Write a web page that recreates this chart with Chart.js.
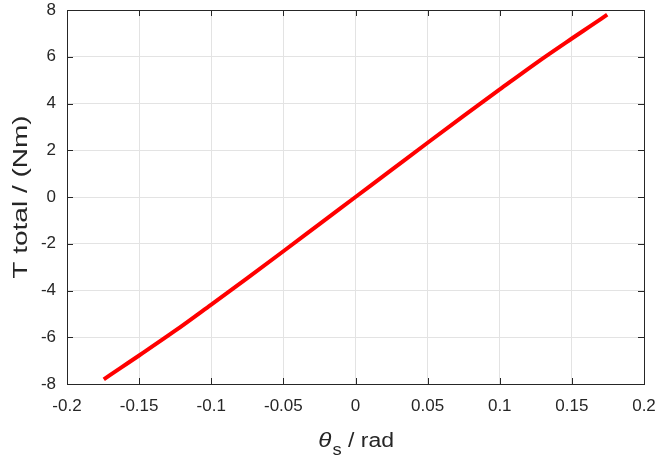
<!DOCTYPE html>
<html>
<head>
<meta charset="utf-8">
<script src="https://cdn.jsdelivr.net/npm/chart.js@4/dist/chart.umd.min.js"></script>
<style>
html,body{margin:0;padding:0;background:#fff;}
#wrap{width:661px;height:461px;position:relative;}
</style>
</head>
<body>
<div id="wrap"><canvas id="c" width="661" height="461"></canvas></div>
<script>
const thetaS = [-0.1745, -0.1625, -0.15, -0.125, -0.1, -0.075, -0.05, -0.025, 0, 0.025, 0.05, 0.075, 0.1, 0.125, 0.15, 0.1625, 0.1745];
const torque = [-7.8, -7.3, -6.78, -5.72, -4.6, -3.47, -2.32, -1.16, 0, 1.16, 2.32, 3.47, 4.6, 5.72, 6.78, 7.3, 7.8];
const xTicks = [-0.2, -0.15, -0.1, -0.05, 0, 0.05, 0.1, 0.15, 0.2];
const yTicks = [-8, -6, -4, -2, 0, 2, 4, 6, 8];
const yTitle = "T total / (Nm)";
const xTitleMain = "\u03B8";
const xTitleSub = "s";
const xTitleRest = " / rad";

const TXT = '#262626';
const FONT = '"Liberation Sans", Arial, Helvetica, sans-serif';

const boxPlugin = {
  id: 'box',
  afterDraw(chart) {
    const ctx = chart.ctx, a = chart.chartArea;
    const xs = chart.scales.x, ys = chart.scales.y;
    ctx.save();
    ctx.strokeStyle = TXT;
    ctx.lineWidth = 1;
    ctx.strokeRect(Math.round(a.left) + 0.5, Math.round(a.top) + 0.5, Math.round(a.right - a.left), Math.round(a.bottom - a.top));
    const L = 6;
    ctx.beginPath();
    xTicks.forEach(v => {
      const px = Math.round(xs.getPixelForValue(v)) + 0.5;
      ctx.moveTo(px, a.bottom); ctx.lineTo(px, a.bottom - L);
      ctx.moveTo(px, a.top); ctx.lineTo(px, a.top + L);
    });
    yTicks.forEach(v => {
      const py = Math.round(ys.getPixelForValue(v)) + 0.5;
      ctx.moveTo(a.left, py); ctx.lineTo(a.left + L, py);
      ctx.moveTo(a.right, py); ctx.lineTo(a.right - L, py);
    });
    ctx.stroke();
    // y title
    ctx.fillStyle = TXT;
    ctx.font = '20px ' + FONT;
    ctx.textAlign = 'center';
    ctx.textBaseline = 'middle';
    ctx.save();
    ctx.translate(21, (a.top + a.bottom) / 2);
    ctx.rotate(-Math.PI / 2);
    ctx.scale(1.4, 1);
    ctx.fillText(yTitle, 0, 0);
    ctx.restore();
    // x title with subscript
    ctx.save();
    ctx.textBaseline = 'alphabetic';
    ctx.textAlign = 'left';
    const fMain = 'italic 21px ' + FONT, fSub = '16px ' + FONT, fRest = '20px ' + FONT;
    ctx.font = fMain; const w1 = ctx.measureText(xTitleMain).width;
    ctx.font = fSub; const w2 = ctx.measureText(xTitleSub).width;
    ctx.font = fRest; const w3 = ctx.measureText(xTitleRest).width;
    const sx = 1.15;
    const total = (w1 + w2 + w3) * sx;
    const cx = (a.left + a.right) / 2;
    ctx.translate(cx - total / 2, 447);
    ctx.scale(sx, 1);
    let x0 = 0;
    ctx.font = fMain; ctx.fillText(xTitleMain, x0, 0); x0 += w1 + 1;
    ctx.font = fSub; ctx.fillText(xTitleSub, x0, 8); x0 += w2;
    ctx.font = fRest; ctx.fillText(xTitleRest, x0, 0);
    ctx.restore();
    ctx.restore();
  }
};

const pts = thetaS.map((x, i) => ({x: x, y: torque[i]}));

new Chart(document.getElementById('c'), {
  type: 'scatter',
  data: {
    datasets: [{
      data: pts,
      showLine: true,
      borderColor: '#ff0000',
      borderWidth: 4,
      pointRadius: 0,
      cubicInterpolationMode: 'monotone',
      fill: false
    }]
  },
  options: {
    responsive: false,
    animation: false,
    devicePixelRatio: 1,
    layout: { padding: { left: 0, right: 17, top: 10, bottom: 0 } },
    plugins: { legend: { display: false }, tooltip: { enabled: false } },
    scales: {
      x: {
        type: 'linear',
        min: -0.2, max: 0.2,
        afterBuildTicks: s => { s.ticks = xTicks.map(v => ({value: v})); },
        afterFit: s => { s.height = 77; s.paddingLeft = 0; s.paddingRight = 0; },
        ticks: {
          color: TXT, padding: 12,
          font: { family: FONT, size: 17 },
          callback: v => String(Math.round(v * 100) / 100),
          maxRotation: 0, autoSkip: false
        },
        grid: { color: '#e3e3e3', drawTicks: false, lineWidth: 1 },
        border: { display: false }
      },
      y: {
        type: 'linear',
        min: -8, max: 8,
        afterBuildTicks: s => { s.ticks = yTicks.map(v => ({value: v})); },
        afterFit: s => { s.width = 67; s.paddingTop = 0; s.paddingBottom = 0; },
        ticks: {
          color: TXT, padding: 11,
          font: { family: FONT, size: 17 },
          autoSkip: false
        },
        grid: { color: '#e3e3e3', drawTicks: false, lineWidth: 1 },
        border: { display: false }
      }
    }
  },
  plugins: [boxPlugin]
});
</script>
</body>
</html>
